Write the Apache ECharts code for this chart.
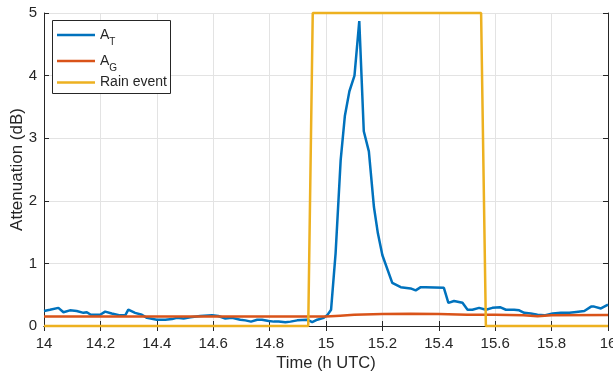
<!DOCTYPE html>
<html>
<head>
<meta charset="utf-8">
<script src="https://cdn.jsdelivr.net/npm/echarts@6/dist/echarts.min.js"></script>
<style>
  html, body { margin: 0; padding: 0; background: #fff; }
  #chart { width: 613px; height: 374px; }
</style>
</head>
<body>
<div id="chart"></div>
<script>
// Total attenuation A_T (dB) vs time (h UTC)
const atTime = [14.000, 14.021, 14.051, 14.069, 14.092, 14.116, 14.140, 14.152, 14.166, 14.199,
  14.217, 14.240, 14.270, 14.288, 14.299, 14.323, 14.347, 14.365, 14.400, 14.430,
  14.454, 14.471, 14.495, 14.519, 14.554, 14.596, 14.618, 14.643, 14.667, 14.696,
  14.714, 14.734, 14.756, 14.773, 14.797, 14.815, 14.832, 14.856, 14.874, 14.898,
  14.933, 14.951, 14.969, 14.992, 15.004, 15.018, 15.034, 15.052, 15.067, 15.083,
  15.101, 15.118, 15.134, 15.152, 15.170, 15.184, 15.200, 15.235, 15.265, 15.300,
  15.318, 15.336, 15.353, 15.418, 15.434, 15.454, 15.484, 15.502, 15.519, 15.543,
  15.567, 15.590, 15.617, 15.638, 15.667, 15.685, 15.703, 15.726, 15.750, 15.774,
  15.804, 15.833, 15.863, 15.880, 15.916, 15.940, 15.951, 15.975, 16.000];
const atValue = [0.24, 0.26, 0.29, 0.22, 0.25, 0.24, 0.21, 0.22, 0.18, 0.18,
  0.23, 0.20, 0.17, 0.17, 0.26, 0.21, 0.18, 0.13, 0.10, 0.10,
  0.11, 0.13, 0.12, 0.14, 0.16, 0.17, 0.16, 0.12, 0.13, 0.10,
  0.09, 0.07, 0.10, 0.10, 0.08, 0.07, 0.07, 0.06, 0.07, 0.09,
  0.10, 0.06, 0.10, 0.13, 0.17, 0.26, 1.16, 2.65, 3.36, 3.75,
  4.00, 4.87, 3.11, 2.79, 1.90, 1.48, 1.13, 0.69, 0.62, 0.60,
  0.57, 0.62, 0.62, 0.61, 0.37, 0.40, 0.37, 0.26, 0.26, 0.29,
  0.26, 0.29, 0.30, 0.26, 0.26, 0.25, 0.21, 0.20, 0.18, 0.17,
  0.20, 0.21, 0.21, 0.22, 0.24, 0.31, 0.31, 0.28, 0.34];

// Gas attenuation A_G (dB)
const agTime = [14.0, 14.5, 15.0, 15.05, 15.1, 15.2, 15.3, 15.4, 15.5, 15.6, 15.7, 15.75, 15.8, 16.0];
const agValue = [0.15, 0.15, 0.15, 0.165, 0.18, 0.19, 0.195, 0.19, 0.18, 0.18, 0.17, 0.155, 0.17, 0.175];

// Rain event indicator
const rainTime = [14.0, 14.937, 14.953, 15.550, 15.567, 16.0];
const rainValue = [0, 0, 5, 5, 0, 0];

// Axis ticks
const xTicks = [14, 14.2, 14.4, 14.6, 14.8, 15, 15.2, 15.4, 15.6, 15.8, 16];
const yTicks = [0, 1, 2, 3, 4, 5];

// Legend entries and their row offsets inside the legend box
const legendNames = ['AT', 'AG', 'Rain event'];
const legendTops = [28, 54, 75.5];

const zip = (t, v) => t.map((x, i) => [x, v[i]]);

const axisColor = '#262626';
const gridColor = '#e3e3e3';
const font = 'Liberation Sans, Arial, Helvetica, sans-serif';

const chart = echarts.init(document.getElementById('chart'), null, { renderer: 'canvas' });

const tickFmt = v => String(Math.round(v * 10) / 10);

const legendFmt = name => {
  if (name === 'AT') return '{m|A}{s|T}';
  if (name === 'AG') return '{m|A}{s|G}';
  return '{m|' + name + '}';
};

const legends = legendNames.map((n, i) => ({
  orient: 'vertical',
  left: 57,
  top: legendTops[i],
  padding: 0,
  itemWidth: 38,
  itemHeight: 2.6,
  icon: 'rect',
  z: 20,
  data: [n],
  formatter: legendFmt,
  textStyle: {
    color: axisColor,
    fontSize: 14,
    rich: {
      m: { fontSize: 14, color: axisColor, fontFamily: font },
      s: { fontSize: 10, color: axisColor, fontFamily: font, padding: [15, 0, 0, 0] }
    }
  }
}));

chart.setOption({
  animation: false,
  backgroundColor: '#fff',
  textStyle: { fontFamily: font },
  grid: { left: 44, right: 5, top: 13, bottom: 48, containLabel: false, outerBoundsMode: 'none' },
  legend: legends,
  graphic: [{
    type: 'rect',
    z: 10,
    shape: { x: 52.5, y: 20.5, width: 118, height: 73 },
    style: { fill: '#fff', stroke: axisColor, lineWidth: 1 }
  }],
  xAxis: [{
    type: 'value',
    min: xTicks[0],
    max: xTicks[xTicks.length - 1],
    interval: 0.2,
    name: 'Time (h UTC)',
    nameLocation: 'middle',
    nameGap: 29,
    nameMoveOverlap: false,
    nameTextStyle: { color: axisColor, fontSize: 16.5, fontFamily: font },
    axisLine: { lineStyle: { color: axisColor, width: 1 } },
    axisTick: { inside: true, length: 5, lineStyle: { color: axisColor } },
    axisLabel: { color: axisColor, fontSize: 15, margin: 10, formatter: tickFmt },
    splitLine: { show: true, lineStyle: { color: gridColor, width: 1 } }
  }, {
    type: 'value',
    position: 'top',
    min: xTicks[0],
    max: xTicks[xTicks.length - 1],
    interval: 0.2,
    axisLine: { lineStyle: { color: axisColor, width: 1 } },
    axisTick: { inside: true, length: 5, lineStyle: { color: axisColor } },
    axisLabel: { show: false },
    splitLine: { show: false }
  }],
  yAxis: [{
    type: 'value',
    min: yTicks[0],
    max: yTicks[yTicks.length - 1],
    interval: 1,
    name: 'Attenuation (dB)',
    nameLocation: 'middle',
    nameGap: 18,
    nameMoveOverlap: false,
    nameTextStyle: { color: axisColor, fontSize: 17, fontFamily: font },
    axisLine: { show: true, lineStyle: { color: axisColor, width: 1 } },
    axisTick: { show: true, inside: true, length: 5, lineStyle: { color: axisColor } },
    axisLabel: { color: axisColor, fontSize: 15, margin: 7 },
    splitLine: { show: true, lineStyle: { color: gridColor, width: 1 } }
  }, {
    type: 'value',
    position: 'right',
    min: yTicks[0],
    max: yTicks[yTicks.length - 1],
    interval: 1,
    axisLine: { show: true, lineStyle: { color: axisColor, width: 1 } },
    axisTick: { show: true, inside: true, length: 5, lineStyle: { color: axisColor } },
    axisLabel: { show: false },
    splitLine: { show: false }
  }],
  series: [{
    name: 'AT',
    type: 'line',
    data: zip(atTime, atValue),
    symbol: 'none',
    clip: true,
    lineStyle: { color: '#0072BD', width: 2.5 },
    itemStyle: { color: '#0072BD' },
    z: 3
  }, {
    name: 'AG',
    type: 'line',
    data: zip(agTime, agValue),
    symbol: 'none',
    clip: true,
    lineStyle: { color: '#D95319', width: 2.5 },
    itemStyle: { color: '#D95319' },
    z: 4
  }, {
    name: 'Rain event',
    type: 'line',
    data: zip(rainTime, rainValue),
    symbol: 'none',
    clip: false,
    lineStyle: { color: '#EDB120', width: 2.5 },
    itemStyle: { color: '#EDB120' },
    z: 5
  }]
});
</script>
</body>
</html>
